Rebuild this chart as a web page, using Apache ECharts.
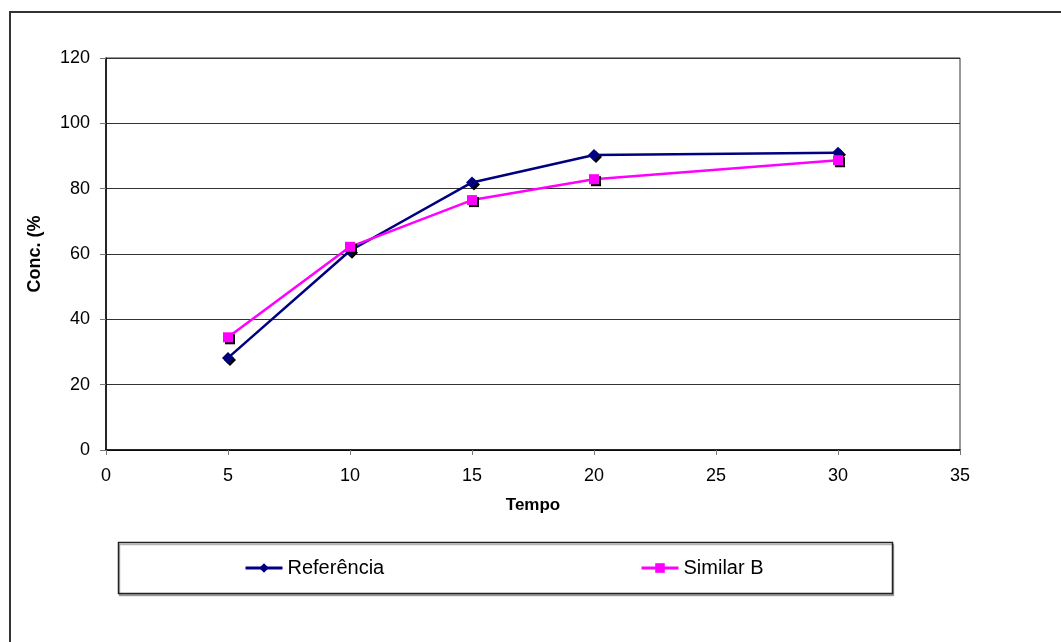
<!DOCTYPE html>
<html>
<head>
<meta charset="utf-8">
<title>Conc. x Tempo</title>
<script src="https://cdn.jsdelivr.net/npm/echarts@6/dist/echarts.min.js"></script>
<style>
  html, body { margin: 0; padding: 0; background: #fff; }
  #chart { width: 1061px; height: 642px; }
</style>
</head>
<body>
<div id="chart"></div>
<script>
// Sampling times and dissolved concentration (%) for each product
const tempo = [5, 10, 15, 20, 30];
const referencia = [28.2, 61.0, 81.9, 90.3, 91.0];
const similarB = [34.5, 62.2, 76.5, 82.9, 88.7];
const seriesNames = ['Referência', 'Similar B'];
const xTicks = { min: 0, max: 35, interval: 5 };
const yTicks = { min: 0, max: 120, interval: 20 };

const FONT = 'Liberation Sans, Arial, sans-serif';

const pairs = (xs, ys) => xs.map((x, i) => [x, ys[i]]);

const chart = echarts.init(document.getElementById('chart'), null, { renderer: 'canvas' });

const markerShadow = {
  shadowColor: '#000',
  shadowBlur: 0,
  shadowOffsetX: 2,
  shadowOffsetY: 2
};

const legendBase = {
  top: 558,
  padding: 0,
  itemWidth: 37,
  itemHeight: 12,
  itemGap: 5,
  textStyle: { fontFamily: FONT, fontSize: 20, color: '#000' },
  itemStyle: { shadowColor: 'transparent', shadowOffsetX: 0, shadowOffsetY: 0 },
  lineStyle: { width: 3 },
  selectedMode: false
};

chart.setOption({
  animation: false,
  backgroundColor: '#fff',
  grid: {
    left: 106, right: 101, top: 58, bottom: 192,
    show: true, borderColor: '#333', borderWidth: 1,
    containLabel: false
  },
  xAxis: {
    type: 'value',
    min: xTicks.min, max: xTicks.max, interval: xTicks.interval,
    name: 'Tempo',
    nameLocation: 'middle',
    nameGap: 47,
    nameTextStyle: { fontFamily: FONT, fontSize: 17, fontWeight: 'bold', color: '#000' },
    axisLine: { show: true, onZero: false, lineStyle: { color: '#000', width: 1.5 } },
    axisTick: { show: true, length: 5, lineStyle: { color: '#777' } },
    axisLabel: { margin: 17, fontFamily: FONT, fontSize: 18, color: '#000' },
    splitLine: { show: false }
  },
  yAxis: {
    type: 'value',
    min: yTicks.min, max: yTicks.max, interval: yTicks.interval,
    name: 'Conc. (%',
    nameLocation: 'middle',
    nameGap: 62,
    nameTextStyle: { fontFamily: FONT, fontSize: 18, fontWeight: 'bold', color: '#000' },
    axisLine: { show: true, onZero: false, lineStyle: { color: '#000', width: 1.5 } },
    axisTick: { show: true, length: 6, lineStyle: { color: '#777' } },
    axisLabel: { margin: 16, fontFamily: FONT, fontSize: 18, color: '#000' },
    splitLine: { show: true, lineStyle: { color: '#333', width: 1 } }
  },
  legend: [
    Object.assign({}, legendBase, { left: 244, data: [seriesNames[0]] }),
    Object.assign({}, legendBase, { left: 640, data: [seriesNames[1]] })
  ],
  graphic: [
    {
      type: 'rect', z: -1, silent: true,
      shape: { x: 10, y: 12, width: 1100, height: 700 },
      style: { fill: 'transparent', stroke: '#333', lineWidth: 2 }
    },
    {
      type: 'rect', z: -1, silent: true,
      shape: { x: 118.5, y: 542.5, width: 774, height: 51 },
      style: {
        fill: '#fff', stroke: '#222', lineWidth: 1.5,
        shadowColor: 'rgba(0,0,0,0.3)', shadowBlur: 0, shadowOffsetX: 1, shadowOffsetY: 2
      }
    }
  ],
  series: [
    {
      name: seriesNames[0],
      type: 'line',
      data: pairs(tempo, referencia),
      symbol: 'diamond',
      symbolSize: 12,
      lineStyle: { color: '#000080', width: 2.5 },
      itemStyle: Object.assign({ color: '#000080' }, markerShadow),
      z: 3
    },
    {
      name: seriesNames[1],
      type: 'line',
      data: pairs(tempo, similarB),
      symbol: 'rect',
      symbolSize: 10,
      lineStyle: { color: '#FF00FF', width: 2.5 },
      itemStyle: Object.assign({ color: '#FF00FF' }, markerShadow),
      z: 4
    }
  ]
});
</script>
</body>
</html>
